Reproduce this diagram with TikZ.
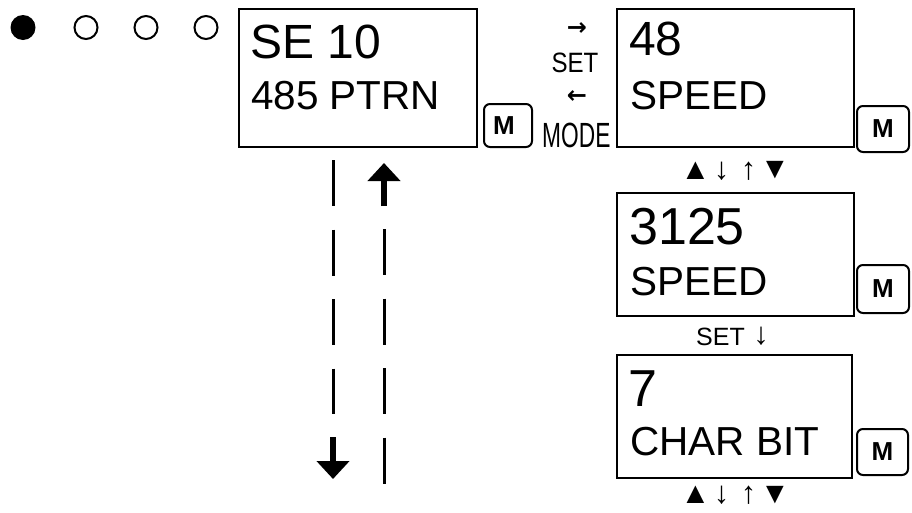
\documentclass[tikz,border=0pt]{standalone}
\usepackage{fontspec}
\usepackage{graphicx}
\setmainfont{Liberation Sans}
\newfontfamily\arrfont{DejaVu Sans}
\usetikzlibrary{arrows.meta}
\tikzset{
  lcd/.style={draw, line width=2pt, inner sep=0pt, outer sep=0pt, anchor=north west},
  mbtn/.style={draw, line width=2pt, rounded corners=6pt, inner sep=0pt, outer sep=0pt, anchor=north west},
  mtxt/.style={font=\fontsize{26pt}{30pt}\selectfont\bfseries, inner sep=0pt},
  bigtxt/.style={font=\fontsize{48pt}{56pt}\selectfont, anchor=base west, inner sep=0pt},
  midtxt/.style={font=\fontsize{40.5pt}{48pt}\selectfont, anchor=base west, inner sep=0pt},
  smalltxt/.style={font=\fontsize{25pt}{30pt}\selectfont, inner sep=0pt},
  sym/.style={font=\fontsize{31pt}{36pt}\selectfont, inner sep=0pt},
  tri/.style={font=\fontsize{30pt}{36pt}\selectfont, inner sep=0pt},
  harr/.style={font=\arrfont\fontsize{24pt}{28pt}\selectfont\bfseries, inner sep=0pt},
  dashline/.style={line width=3pt, dash pattern=on 46pt off 23.5pt},
  arrline/.style={line width=6pt, -{Triangle[width=32pt,length=18pt]}},
  ring/.style={draw, line width=2pt},
}
\begin{document}
\begin{tikzpicture}[x=1pt,y=-1pt]
\useasboundingbox (0,0) rectangle (912,512);
% indicator circles
\fill (23,27.5) circle (12.5);
\draw[ring] (86,27.5) circle (11.5);
\draw[ring] (146,27.5) circle (11.5);
\draw[ring] (206,27.5) circle (11.5);
% box 1
\node[lcd, minimum width=238pt, minimum height=138pt] (b1) at (239,9) {};
\node[bigtxt] (b1a) at (250,58) {SE 10};
\node[midtxt] (b1b) at (251,109) {485 PTRN};
\node[mbtn, minimum width=48pt, minimum height=43pt] (m1) at (484,104) {};
\node[mtxt] (m1t) at (504,125.5) {M};
% SET / MODE
\node[harr] (ar1) at (577,29) {→};
\node[smalltxt, anchor=base] (set1) at (575,72) {\scalebox{0.86}[1]{\fontsize{28pt}{32pt}\selectfont SET}};
\node[harr] (ar2) at (577,97) {←};
\node[smalltxt, anchor=base west] (mode) at (542,147) {\scalebox{0.65}[1]{\fontsize{35pt}{40pt}\selectfont MODE}};
% box 2
\node[lcd, minimum width=237pt, minimum height=138pt] (b2) at (617,9) {};
\node[bigtxt] (b2a) at (629,55) {48};
\node[midtxt] (b2b) at (630,109) {SPEED};
\node[mbtn, minimum width=52pt, minimum height=46pt] (m2) at (857,106) {};
\node[mtxt] (m2t) at (m2.center) {M};
% symbols row 1
\node[tri] (s1) at (695.5,170.5) {▲};
\node[sym] (s2) at (721.5,171) {↓};
\node[sym] (s3) at (748.5,171.5) {↑};
\node[tri] (s4) at (775,170.5) {▼};
% box 3
\node[lcd, minimum width=237pt, minimum height=123pt] (b3) at (617,193) {};
\node[bigtxt, font=\fontsize{52pt}{60pt}\selectfont] (b3a) at (629,244) {3125};
\node[midtxt] (b3b) at (630,295) {SPEED};
\node[mbtn, minimum width=52pt, minimum height=48pt] (m3) at (857,265) {};
\node[mtxt] (m3t) at (m3.center) {M};
% SET down
\node[smalltxt, anchor=base west] (set2) at (696,345) {SET};
\node[sym] (s5) at (761,336) {↓};
% box 4
\node[lcd, minimum width=235pt, minimum height=123pt] (b4) at (617,355) {};
\node[bigtxt, font=\fontsize{52pt}{60pt}\selectfont] (b4a) at (628,406) {7};
\node[midtxt] (b4b) at (630,455) {CHAR BIT};
\node[mbtn, minimum width=51pt, minimum height=46pt] (m4) at (857,429) {};
\node[mtxt] (m4t) at (m4.center) {M};
% symbols row 2
\node[tri] (s6) at (695.5,495) {▲};
\node[sym] (s7) at (721.5,495.5) {↓};
\node[sym] (s8) at (748.5,495.5) {↑};
\node[tri] (s9) at (775,495) {▼};
% dashed flows
\coordinate (l0) at (333,160);
\coordinate (l1) at (333,414);
\coordinate (la) at (333,437);
\coordinate (lb) at (333,479);
\draw[dashline] (l0) -- (l1);
\draw[arrline] (la) -- (lb);
\coordinate (r0) at (384,483.5);
\coordinate (r1) at (384,229);
\coordinate (ra) at (384,206);
\coordinate (rb) at (384,163);
\draw[dashline] (r1) -- (r0);
\draw[arrline] (ra) -- (rb);
\end{tikzpicture}
\end{document}
